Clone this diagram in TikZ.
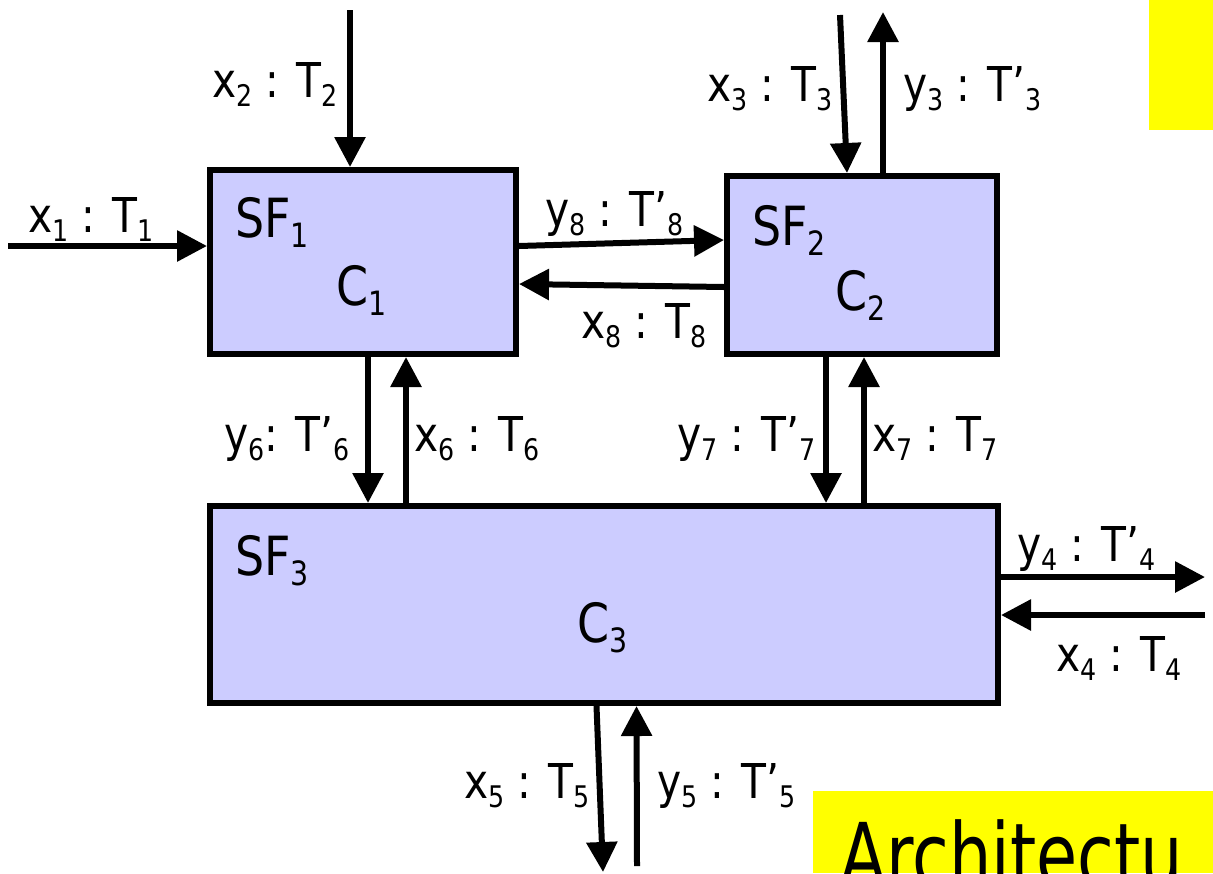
\documentclass[tikz,border=0pt]{standalone}
\usepackage{fontspec}
\setmainfont{DejaVu Sans}[FakeStretch=0.85]
\newfontfamily\notefont{DejaVu Sans}[FakeStretch=0.76]
\usetikzlibrary{
  arrows.meta,
  positioning,
  calc
}
\definecolor{boxcolor}{RGB}{204, 204, 255}
\definecolor{notecolor}{RGB}{255, 255, 0}
\definecolor{linecolor}{RGB}{0, 0, 0}
\newcommand{\lo}[1]{\raisebox{-0.35ex}{\scalebox{0.62}{#1}}}
\tikzset{
sfbox/.style={
  draw=linecolor,
  line width=3pt,
  fill=boxcolor,
  inner sep=0pt
},
sftext/.style={
  font=\fontsize{27}{27}\selectfont,
  inner sep=0pt
},
sigtext/.style={
  font=\fontsize{24}{24}\selectfont,
  inner sep=0pt
},
flow/.style={
  -{Triangle[length=15pt,width=15pt]},
  line width=3pt,
  draw=linecolor
}
}

\begin{document}
\begin{tikzpicture}[x=0.5pt, y=-0.5pt]
      \useasboundingbox (0,0) rectangle (1213,873);
      % Yellow notes
      \fill[notecolor] (1149,0) rectangle (1213,130);
      \fill[notecolor] (813,791) rectangle (1213,873);
      \node[anchor=base west, inner sep=0pt, font=\notefont\fontsize{44}{44}\selectfont] (arch) at (840,886) {Architectu};
      % Sub-functions
      \node[sfbox, minimum width=153pt, minimum height=92pt] (sf1) at (363,262) {};
      \node[sfbox, minimum width=135pt, minimum height=89pt] (sf2) at (862,265) {};
      \node[sfbox, minimum width=394pt, minimum height=98.5pt] (sf3) at (604,604.5) {};
      \node[sftext, anchor=base west] (sf1name) at (235,237) {SF\lo{1}};
      \node[sftext, anchor=base west] (c1name) at (336,305) {C\lo{1}};
      \node[sftext, anchor=base west] (sf2name) at (752,245) {SF\lo{2}};
      \node[sftext, anchor=base west] (c2name) at (835,310) {C\lo{2}};
      \node[sftext, anchor=base west] (sf3name) at (235,575) {SF\lo{3}};
      \node[sftext, anchor=base west] (c3name) at (577,642) {C\lo{3}};
      % Free ends
      \coordinate (x1in) at (8,246);
      \coordinate (x2in) at (350,10);
      \coordinate (x3in) at (840,15);
      \coordinate (y3out) at (883,12);
      \coordinate (y4out) at (1205,577);
      \coordinate (x4in) at (1205,615);
      \coordinate (x5in) at (603,872);
      \coordinate (y5out) at (637,866);
      % Signals
      \draw[flow] (x1in) -- (x1in -| sf1.west);
      \draw[flow] (x2in) -- (x2in |- sf1.north);
      \draw[flow] ([yshift=8pt]sf1.east) -- ([yshift=12.5pt]sf2.west);
      \draw[flow] ([yshift=-11pt]sf2.west) -- ([yshift=-11pt]sf1.east);
      \draw[flow] (x3in) -- ([xshift=-7.5pt]sf2.north);
      \draw[flow] ([xshift=10.5pt]sf2.north) -- (y3out);
      \draw[flow] ([xshift=2.5pt]sf1.south) -- ([xshift=2.5pt]sf1.south |- sf3.north);
      \draw[flow] ([xshift=21.5pt]sf1.south |- sf3.north) -- ([xshift=21.5pt]sf1.south);
      \draw[flow] ([xshift=-18pt]sf2.south) -- ([xshift=-18pt]sf2.south |- sf3.north);
      \draw[flow] ([xshift=1pt]sf2.south |- sf3.north) -- ([xshift=1pt]sf2.south);
      \draw[flow] ([yshift=13.75pt]sf3.east) -- (y4out);
      \draw[flow] (x4in) -- ([yshift=-5.25pt]sf3.east);
      \draw[flow] ([xshift=-3.75pt]sf3.south) -- (x5in);
      \draw[flow] (y5out) -- ([xshift=16.25pt]sf3.south);
      % Labels
      \node[sigtext, anchor=base west] (x1lab) at (28,232) {x\lo{1} : T\lo{1}};
      \node[sigtext, anchor=base east] (x2lab) at (338,97) {x\lo{2} : T\lo{2}};
      \node[sigtext, anchor=base west] (y8lab) at (545,226) {y\lo{8} : T’\lo{8}};
      \node[sigtext, anchor=base east] (x8lab) at (707,338) {x\lo{8} : T\lo{8}};
      \node[sigtext, anchor=base east] (x3lab) at (833,101) {x\lo{3} : T\lo{3}};
      \node[sigtext, anchor=base west] (y3lab) at (903,101) {y\lo{3} : T’\lo{3}};
      \node[sigtext, anchor=base east] (y6lab) at (350,451) {y\lo{6}: T’\lo{6}};
      \node[sigtext, anchor=base west] (x6lab) at (414,451) {x\lo{6} : T\lo{6}};
      \node[sigtext, anchor=base east] (y7lab) at (816,451) {y\lo{7} : T’\lo{7}};
      \node[sigtext, anchor=base west] (x7lab) at (872,451) {x\lo{7} : T\lo{7}};
      \node[sigtext, anchor=base west] (y4lab) at (1017,561) {y\lo{4} : T’\lo{4}};
      \node[sigtext, anchor=base east] (x4lab) at (1182,671) {x\lo{4} : T\lo{4}};
      \node[sigtext, anchor=base east] (x5lab) at (590,798) {x\lo{5} : T\lo{5}};
      \node[sigtext, anchor=base west] (y5lab) at (657,798) {y\lo{5} : T’\lo{5}};
    \end{tikzpicture}
\end{document}
